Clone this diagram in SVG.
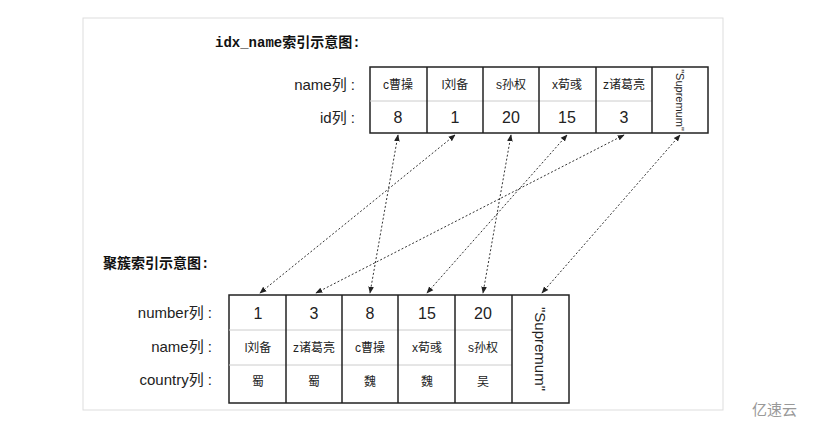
<svg xmlns="http://www.w3.org/2000/svg" width="815" height="431" viewBox="0 0 815 431">
<defs>
<marker id="ah" viewBox="0 0 10 10" refX="9" refY="5" markerWidth="7" markerHeight="7" orient="auto-start-reverse"><path d="M0,1 L10,5 L0,9 z" fill="#222"/></marker>
</defs>
<style>
.b{fill:#fff;stroke:#222;stroke-width:1.5}
.g{stroke:#ccc;stroke-width:1}
.v{stroke:#222;stroke-width:1.5}
.t{font-family:"Liberation Sans","Noto Sans CJK SC",sans-serif;fill:#222;text-anchor:middle}
.l{font-family:"Liberation Sans","Noto Sans CJK SC",sans-serif;fill:#222;text-anchor:end;font-size:15px}
.h{font-family:"Liberation Mono","Noto Sans CJK SC",monospace;font-weight:bold;font-size:14px;fill:#111}
.c{stroke:#333;stroke-width:1;stroke-dasharray:2,2;fill:none;marker-start:url(#ah);marker-end:url(#ah)}
</style>
<rect x="0" y="0" width="815" height="431" fill="#fff"/>
<rect x="83" y="18" width="640" height="392" fill="#fff" stroke="#ddd"/>
<text class="h" x="215" y="47">idx_name索引示意图:</text>
<text class="h" x="103" y="268">聚簇索引示意图:</text>
<g id="top">
<text class="l" x="355" y="90">name列 :</text>
<text class="l" x="355" y="123">id列 :</text>
<rect class="b" x="370" y="67" width="338" height="66"/>
<line class="g" x1="370" y1="101" x2="652" y2="101"/>
<line class="v" x1="427" y1="67" x2="427" y2="133"/><line class="v" x1="483" y1="67" x2="483" y2="133"/><line class="v" x1="539" y1="67" x2="539" y2="133"/><line class="v" x1="596" y1="67" x2="596" y2="133"/><line class="v" x1="652" y1="67" x2="652" y2="133"/>
<g class="t" font-size="12"><text x="398" y="89">c曹操</text><text x="455" y="89">l刘备</text><text x="511" y="89">s孙权</text><text x="567" y="89">x荀彧</text><text x="624" y="89">z诸葛亮</text></g>
<g class="t" font-size="16"><text x="398" y="123">8</text><text x="455" y="123">1</text><text x="511" y="123">20</text><text x="567" y="123">15</text><text x="624" y="123">3</text></g>
<text class="t" font-size="11" transform="translate(676,100) rotate(90)">"Supremum"</text>
</g>
<g id="bottom">
<text class="l" x="212" y="318">number列 :</text>
<text class="l" x="212" y="352">name列 :</text>
<text class="l" x="212" y="385">country列 :</text>
<rect class="b" x="229" y="295" width="340" height="108"/>
<line class="g" x1="229" y1="330" x2="512" y2="330"/><line class="g" x1="229" y1="365" x2="512" y2="365"/>
<line class="v" x1="286" y1="295" x2="286" y2="403"/><line class="v" x1="342" y1="295" x2="342" y2="403"/><line class="v" x1="398" y1="295" x2="398" y2="403"/><line class="v" x1="455" y1="295" x2="455" y2="403"/><line class="v" x1="512" y1="295" x2="512" y2="403"/>
<g class="t" font-size="16"><text x="258" y="319">1</text><text x="314" y="319">3</text><text x="370" y="319">8</text><text x="427" y="319">15</text><text x="483" y="319">20</text></g>
<g class="t" font-size="12"><text x="258" y="352">l刘备</text><text x="314" y="352">z诸葛亮</text><text x="370" y="352">c曹操</text><text x="427" y="352">x荀彧</text><text x="483" y="352">s孙权</text></g>
<g class="t" font-size="12"><text x="258" y="386">蜀</text><text x="314" y="386">蜀</text><text x="370" y="386">魏</text><text x="427" y="386">魏</text><text x="483" y="386">吴</text></g>
<text class="t" font-size="15" transform="translate(535,349) rotate(90)">"Supremum"</text>
</g>
<g id="connectors">
<line class="c" x1="398" y1="135" x2="370" y2="293"/>
<line class="c" x1="455" y1="135" x2="260" y2="293"/>
<line class="c" x1="511" y1="135" x2="483" y2="293"/>
<line class="c" x1="567" y1="135" x2="427" y2="293"/>
<line class="c" x1="624" y1="135" x2="316" y2="293"/>
<line class="c" x1="680" y1="135" x2="542" y2="293"/>
</g>
<text x="752" y="415" font-family="Liberation Sans,Noto Sans CJK SC,sans-serif" font-size="15" fill="#999">亿速云</text>
</svg>
